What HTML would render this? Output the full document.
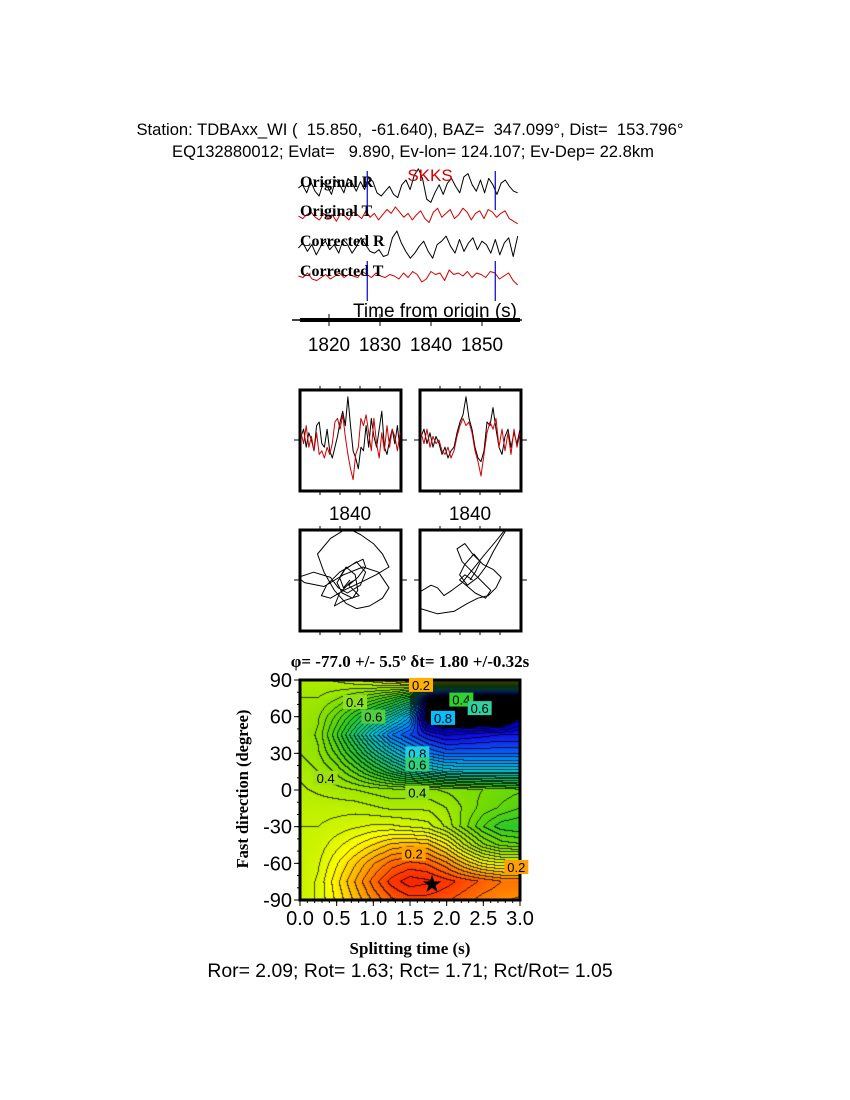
<!DOCTYPE html>
<html><head><meta charset="utf-8"><style>
body{margin:0;background:#fff;}
#page{position:relative;width:850px;height:1100px;background:#fff;font-family:"Liberation Sans",sans-serif;}
.t{position:absolute;white-space:nowrap;}
</style></head><body>
<div id="page">
<div class="t" style="left:0;width:820px;text-align:center;top:120px;font-size:16.6px;">Station: TDBAxx_WI (&nbsp; 15.850,&nbsp; -61.640), BAZ=&nbsp; 347.099°, Dist=&nbsp; 153.796°</div>
<div class="t" style="left:0;width:826px;text-align:center;top:142px;font-size:16.6px;">EQ132880012; Evlat=&nbsp;&nbsp; 9.890, Ev-lon= 124.107; Ev-Dep= 22.8km</div>
<svg id="sv" width="850" height="1100" style="position:absolute;left:0;top:0">
<defs><clipPath id="c1"><rect x="300" y="530" width="101" height="101"/></clipPath><clipPath id="c2"><rect x="420" y="530" width="101" height="101"/></clipPath></defs>
</svg>
<canvas id="hm" width="220" height="220" style="position:absolute;left:300px;top:680px"></canvas>
<svg id="sv2" width="850" height="1100" style="position:absolute;left:0;top:0"></svg>
<div class="t" style="left:0;width:820px;text-align:center;top:960px;font-size:19.4px;">Ror= 2.09; Rot= 1.63; Rct= 1.71; Rct/Rot= 1.05</div>
</div>
<script>
// ---- data ----
const timeTicks=[1820,1830,1840,1850];
const pickTimes=[1827.5,1852.6];
const origR=[0,2,-3,4,-2,-5,3,1,-4,5,2,-3,6,3,-2,4,-1,7,4,-3,-5,-2,1,-4,-6,2,5,-1,8,12,6,-7,-9,-3,2,-4,3,6,1,-3,7,9,2,-2,5,-3,6,2,-4,3,5,1,-2,-3];
const origT=[0,-2,1,3,-1,-3,2,-2,1,-4,2,0,-3,3,1,-2,4,-1,2,-3,1,5,2,7,3,-1,2,-3,1,4,-2,-5,3,6,-1,2,5,-2,1,6,3,-3,2,4,-2,5,3,-1,2,4,-2,-4,-6];
const corrR=[0,3,-2,2,-4,1,4,-1,2,-3,5,2,-3,1,6,2,-2,-3,-1,-5,-4,6,10,3,-2,-6,-3,1,4,-2,-6,2,4,7,1,-3,5,-2,3,6,-1,4,2,-3,5,-4,3,6,-5,7];
const corrT=[0,-1,2,-2,-3,-1,1,-2,0,2,-1,1,0,-1,3,1,-1,2,0,-1,1,0,-2,2,-1,3,1,-4,-2,3,1,2,-3,4,1,2,0,3,-1,2,1,-1,3,2,-2,0,2,-3,-6];
const winR1=[1,3,-2,2,0,-3,4,5,-1,-2,3,-3,-5,-2,1,5,8,4,12,4,-3,-5,-8,-2,-3,4,-2,6,1,-2,3,8,-2,-4,0,3,-1,4,-3];
const winT1=[2,-1,4,-2,1,-3,2,-4,-3,-5,-2,-4,-1,5,6,3,7,1,-4,-8,-11,-4,-2,6,4,7,2,-3,6,-1,-5,2,-3,4,-2,3,1,-3,2];
const winR2=[1,3,-1,2,-2,1,-1,-4,-2,-5,-3,-2,2,5,7,12,6,3,-2,-5,-6,-3,5,4,9,3,-2,-4,1,3,-2,2,-1,3];
const winT2=[2,-1,3,-2,1,-1,0,-3,-4,-2,-5,-3,1,4,6,4,5,2,-3,-6,-10,-4,2,5,3,6,-2,3,-3,2,-4,3,-2,2];
const pm1x=[0,-5,-8,-3,4,6,2,-6,-10,-4,5,12,8,-2,-9,-15,-28,-40,-35,-20,-5,10,22,30,25,15,5,-3,-12,-20,-25,-15,-2,8,18,25,30,20,8,-5,-15,-22,-18,-8,2,10,12,6,-1,3,7,-5,-12,-8,0,4];
const pm1y=[0,6,-2,-10,-4,8,14,10,2,-8,-14,-6,4,10,6,-2,-6,-2,2,5,-4,-10,-6,6,14,20,22,18,8,-6,-20,-32,-40,-35,-28,-20,-10,-4,2,8,14,12,4,-6,-12,-16,-10,-2,4,8,12,16,20,10,2,0];
const pm2x=[0,4,8,3,-4,-8,-2,6,12,18,25,32,20,10,2,-6,-14,-20,-25,-30,-40,-38,-25,-12,-2,6,14,20,24,18,10,2,-4,-10,-6,2,10,16,12,4,-3,-8,-4,2];
const pm2y=[0,-6,-14,-20,-12,-4,4,-2,-10,-22,-34,-45,-30,-18,-8,2,8,12,6,4,10,22,26,24,18,14,12,6,-2,-8,-12,-20,-28,-24,-14,-6,2,8,14,10,4,0,-4,0];
const gridX=[0,0.25,0.5,0.75,1,1.25,1.5,1.75,2,2.25,2.5,2.75,3];
const gridPhi=[90,75,60,45,30,15,0,-15,-30,-45,-60,-75,-90];
const misfit=[
[.38,.38,.37,.35,.33,.30,.27,.24,.22,.22,.22,.22,.22],
[.40,.40,.42,.45,.48,.52,.58,1.1,1.2,1.2,1.2,1.2,1.2],
[.40,.42,.48,.55,.62,.70,.80,1.1,1.15,1.15,1.15,1.15,1.05],
[.40,.43,.52,.63,.75,.85,.90,.95,.98,.97,.96,.95,.95],
[.40,.42,.48,.56,.65,.73,.80,.85,.88,.88,.88,.88,.88],
[.38,.40,.43,.48,.54,.60,.66,.70,.73,.74,.74,.74,.74],
[.37,.38,.39,.40,.41,.42,.42,.42,.43,.44,.45,.46,.47],
[.36,.36,.36,.36,.37,.38,.38,.38,.40,.43,.46,.48,.50],
[.35,.35,.34,.33,.32,.32,.33,.34,.38,.44,.50,.54,.55],
[.35,.34,.31,.28,.25,.22,.21,.22,.27,.35,.42,.46,.47],
[.35,.33,.28,.23,.18,.14,.12,.13,.17,.23,.28,.30,.30],
[.35,.32,.26,.20,.14,.09,.06,.07,.09,.11,.13,.15,.15],
[.35,.32,.27,.22,.17,.13,.11,.11,.12,.14,.16,.17,.18]];
const xTicks=[0,0.5,1,1.5,2,2.5,3];
const yTicks=[90,60,30,0,-30,-60,-90];
const bestDt=1.8, bestPhi=-77;

// ---- helpers ----
const NS="http://www.w3.org/2000/svg";
const sv=document.getElementById('sv'), sv2=document.getElementById('sv2');
function mk(p,tag,at){const e=document.createElementNS(NS,tag);for(const k in at)e.setAttribute(k,at[k]);p.appendChild(e);return e;}
function txt(p,x,y,s,st,anchor){const e=mk(p,'text',{x:x,y:y,'text-anchor':anchor||'start',style:st});e.textContent=s;return e;}

// ---- record section ----
const tx=t=>329+(t-1820)*5.1;
function trace(arr,y0,col,t0,t1,amp,nm){
  const d=arr.map((v,i)=>(i?'L':'M')+tx(t0+(t1-t0)*i/(arr.length-1)).toFixed(1)+','+(y0-v*amp).toFixed(1)).join('');
  const e=mk(sv,'path',{d:d,fill:'none',stroke:col,'stroke-width':1,'stroke-linejoin':'round'});
  
  
}
trace(origR,188,'#000',1814,1857,1.6,'original-r-trace');
trace(origT,216,'#d00000',1814,1857,1.3,'original-t-trace');
trace(corrR,248,'#000',1814,1857,1.7,'corrected-r-trace');
trace(corrT,276,'#d00000',1814,1857,1.5,'corrected-t-trace');
[['Original R',188],['Original T',217],['Corrected R',247],['Corrected T',277]].forEach(a=>{
  const e=txt(sv,300,a[1]-1,a[0],'font:bold 16px "Liberation Serif",serif');
  
  
});
const sk=txt(sv,430,181,'SKKS','font:17px "Liberation Sans",sans-serif;fill:#d00000','middle');


pickTimes.forEach(t=>{
  [[171,210],[261,301]].forEach(s=>{
    const e=mk(sv,'line',{x1:tx(t),x2:tx(t),y1:s[0],y2:s[1],stroke:'#0000d0','stroke-width':1.2});
    
    
  });
});
mk(sv,'line',{x1:292,x2:522,y1:320,y2:320,stroke:'#000','stroke-width':1.5});
mk(sv,'line',{x1:300,x2:520,y1:320,y2:320,stroke:'#000','stroke-width':4});
const tl=txt(sv,435,317,'Time from origin (s)','font:19px "Liberation Sans",sans-serif','middle');


timeTicks.forEach(t=>{
  mk(sv,'line',{x1:tx(t),x2:tx(t),y1:314,y2:326,stroke:'#000','stroke-width':1});
  const e=txt(sv,tx(t),351,String(t),'font:19px "Liberation Sans",sans-serif','middle');
  
  
});

// ---- window boxes ----
function box(x,y,nm){
  const g=mk(sv,'g',{});
  
  
  mk(g,'rect',{x:x,y:y,width:101,height:101,fill:'none',stroke:'#000','stroke-width':3});
  [20,40,60,80].forEach(d=>{mk(g,'line',{x1:x+d,x2:x+d,y1:y-4,y2:y,stroke:'#000'});mk(g,'line',{x1:x+d,x2:x+d,y1:y+101,y2:y+105,stroke:'#000'});});
  mk(g,'line',{x1:x-6,x2:x,y1:y+50,y2:y+50,stroke:'#000'});mk(g,'line',{x1:x+101,x2:x+107,y1:y+50,y2:y+50,stroke:'#000'});
  return g;
}
function wtrace(g,arr,x,y,col){
  const d=arr.map((v,i)=>(i?'L':'M')+(x+1+99*i/(arr.length-1)).toFixed(1)+','+(y+50-v*3.6).toFixed(1)).join('');
  mk(g,'path',{d:d,fill:'none',stroke:col,'stroke-width':1,'stroke-linejoin':'round'});
}
function pm(g,ax,ay,x,y,clip){
  const d=ax.map((v,i)=>(i?'L':'M')+(x+50+v*1.3).toFixed(1)+','+(y+50+ay[i]*1.3).toFixed(1)).join('');
  mk(g,'path',{d:d,fill:'none',stroke:'#000','stroke-width':1,'stroke-linejoin':'round','clip-path':'url(#'+clip+')'});
}
let g=box(300,390,'original-window-box');wtrace(g,winR1,300,390,'#000');wtrace(g,winT1,300,390,'#d00000');
g=box(420,390,'corrected-window-box');wtrace(g,winR2,420,390,'#000');wtrace(g,winT2,420,390,'#d00000');
[350,470].forEach(x=>{const e=txt(sv,x,520,'1840','font:19px "Liberation Sans",sans-serif','middle');});
g=box(300,530,'original-particle-motion');pm(g,pm1x,pm1y,300,530,'c1');
g=box(420,530,'corrected-particle-motion');pm(g,pm2x,pm2y,420,530,'c2');

// ---- heatmap ----
const X0=300,Y0=680,W=220,H=220;
const px=v=>X0+v/3*W, py=p=>Y0+(90-p)/180*H;
const stops=[[0,[230,0,0]],[.1,[255,60,0]],[.2,[255,170,0]],[.28,[255,255,0]],[.36,[190,240,0]],[.45,[120,220,0]],[.55,[40,200,40]],[.65,[20,200,130]],[.75,[0,200,220]],[.85,[0,130,255]],[.95,[20,20,230]],[1.0,[0,0,210]]];
function cmap(v){if(v>1.04)return[0,0,0];for(let i=1;i<stops.length;i++){if(v<=stops[i][0]){const a=stops[i-1],b=stops[i],f=(v-a[0])/(b[0]-a[0]);return a[1].map((c,k)=>c+(b[1][k]-c)*f);}}return stops[stops.length-1][1];}
function val(dt,phi){
  const fx=dt/3*(gridX.length-1), fy=(90-phi)/180*(gridPhi.length-1);
  const i=Math.min(Math.floor(fx),gridX.length-2), j=Math.min(Math.floor(fy),gridPhi.length-2);
  const a=fx-i,b=fy-j;
  return misfit[j][i]*(1-a)*(1-b)+misfit[j][i+1]*a*(1-b)+misfit[j+1][i]*(1-a)*b+misfit[j+1][i+1]*a*b;
}
const cv=document.getElementById('hm').getContext('2d');
const img=cv.createImageData(W,H);
const V=[];
for(let y=0;y<H;y++){V.push([]);for(let x=0;x<W;x++)V[y].push(val((x+.5)/W*3,90-(y+.5)/H*180));}
for(let y=0;y<H;y++)for(let x=0;x<W;x++){
  const v=V[y][x];let c=cmap(v);
  const l=Math.floor(v/0.025);
  if(v<1.04&&((x+1<W&&Math.floor(V[y][x+1]/0.025)!==l)||(y+1<H&&Math.floor(V[y+1][x]/0.025)!==l)))c=c.map(q=>q*0.25);
  const k=(y*W+x)*4;img.data[k]=c[0];img.data[k+1]=c[1];img.data[k+2]=c[2];img.data[k+3]=255;
}
cv.putImageData(img,0,0);
mk(sv2,'rect',{x:X0,y:Y0,width:W,height:H,fill:'none',stroke:'#000','stroke-width':3});
[['0.2',1.65,86,'#ffb000'],['0.4',2.2,74,'#30d030'],['0.6',2.45,67,'#30d0a0'],['0.8',1.95,59,'#00c0ff'],['0.8',1.6,30,'#20d0e0'],['0.6',1.6,21,'#30d080'],['0.4',1.6,-2,'#8ee020'],['0.2',1.55,-52,'#ffa000'],['0.4',0.75,72,'#90e020'],['0.6',1.0,60,'#50d040'],['0.4',0.35,10,'#a0e010'],['0.2',2.95,-63,'#ffa000']].forEach(l=>{
  const r=mk(sv2,'rect',{x:px(l[1])-12,y:py(l[2])-7,width:24,height:14,fill:l[3]});
  
  
  const e=txt(sv2,px(l[1]),py(l[2])+5,l[0],'font:13px "Liberation Sans",sans-serif','middle');
  
  
});
const st=txt(sv2,px(bestDt),py(bestPhi)+8,'★','font:24px "DejaVu Sans",sans-serif','middle');


xTicks.forEach(v=>{
  mk(sv2,'line',{x1:px(v),x2:px(v),y1:Y0+H,y2:Y0+H+6,stroke:'#000'});
  const e=txt(sv2,px(v),925,v.toFixed(1),'font:20px "Liberation Sans",sans-serif','middle');
  
  
});
for(let v=0.1;v<3;v+=0.1)mk(sv2,'line',{x1:px(v),x2:px(v),y1:Y0+H,y2:Y0+H+3,stroke:'#000'});
yTicks.forEach(v=>{
  mk(sv2,'line',{x1:X0-6,x2:X0,y1:py(v),y2:py(v),stroke:'#000'});
  const e=txt(sv2,X0-8,py(v)+7,String(v),'font:20px "Liberation Sans",sans-serif','end');
  
  
});
for(let v=-80;v<90;v+=10)mk(sv2,'line',{x1:X0-3,x2:X0,y1:py(v),y2:py(v),stroke:'#000'});
let e=txt(sv2,410,667,'φ= -77.0 +/- 5.5º δt= 1.80 +/-0.32s','font:bold 17px "Liberation Serif",serif','middle');

e=txt(sv2,410,954,'Splitting time (s)','font:bold 17px "Liberation Serif",serif','middle');

e=txt(sv2,0,0,'Fast direction (degree)','font:bold 16.5px "Liberation Serif",serif','middle');
e.setAttribute('transform','translate(248,789) rotate(-90)');

</script>
</body></html>
